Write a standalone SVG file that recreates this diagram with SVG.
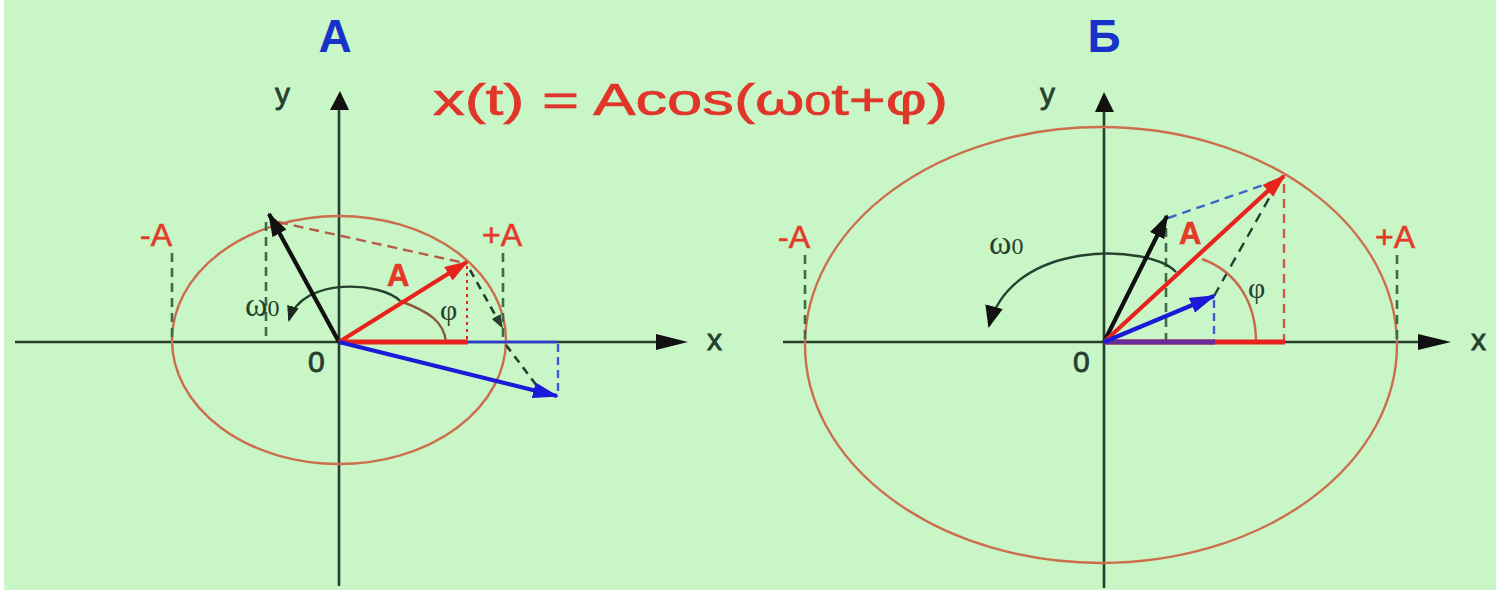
<svg xmlns="http://www.w3.org/2000/svg" width="1496" height="590" viewBox="0 0 1496 590">
<style>
.axis{stroke:#26402f;stroke-width:2.6;fill:none}
.ell{stroke:#cc6e4e;stroke-width:2.4;fill:none}
.dg{stroke:#3d6b4a;stroke-width:2.6;stroke-dasharray:9 6;fill:none}
.vec{stroke-width:4.2;fill:none}
.lbl{font-family:"Liberation Sans",Arial,sans-serif;fill:#e33a2a;stroke:#e33a2a;stroke-width:0.6}
.greek{font-family:"Liberation Serif","DejaVu Serif",serif;fill:#26402f}
.ttl{font-family:"Liberation Sans",Arial,sans-serif;font-weight:bold;fill:#1632c8;font-size:46px}
.ax{font-family:"Liberation Sans",Arial,sans-serif;fill:#26402f;stroke:#26402f;stroke-width:0.8;font-size:30px}
</style>
<defs>
<marker id="hRed" markerUnits="userSpaceOnUse" markerWidth="24" markerHeight="16" refX="22" refY="8" orient="auto"><path d="M0,0 L24,8 L0,16 z" fill="#e8221c"/></marker>
<marker id="hBlk" markerUnits="userSpaceOnUse" markerWidth="24" markerHeight="16" refX="22" refY="8" orient="auto"><path d="M0,0 L24,8 L0,16 z" fill="#111"/></marker>
<marker id="hBlu" markerUnits="userSpaceOnUse" markerWidth="26" markerHeight="16" refX="24" refY="8" orient="auto"><path d="M0,0 L26,8 L0,16 z" fill="#1a1ad8"/></marker>
<marker id="hArc" markerUnits="userSpaceOnUse" markerWidth="16" markerHeight="12" refX="14" refY="6" orient="auto"><path d="M0,0 L16,6 L0,12 z" fill="#1c2a20"/></marker>
<marker id="hArcB" markerUnits="userSpaceOnUse" markerWidth="22" markerHeight="18" refX="20" refY="9" orient="auto"><path d="M0,0 L22,9 L0,18 z" fill="#111"/></marker>
<marker id="hDash" markerUnits="userSpaceOnUse" markerWidth="14" markerHeight="10" refX="12" refY="5" orient="auto"><path d="M0,0 L14,5 L0,10 z" fill="#26402f"/></marker>
</defs>
<rect x="0" y="0" width="1496" height="590" fill="#c8f6c6"/>
<rect x="0" y="0" width="4" height="590" fill="#ffffff"/>

<!-- Titles and formula -->
<text class="ttl" x="335" y="52" text-anchor="middle">А</text>
<text class="ttl" x="1104" y="52" text-anchor="middle">Б</text>
<text x="433" y="115" font-family="'Liberation Sans',Arial,sans-serif" font-size="45" fill="#e0362a" stroke="#e0362a" stroke-width="0.7" textLength="515" lengthAdjust="spacingAndGlyphs">x(t) = Acos(ω<tspan font-size="34">0</tspan>t+φ)</text>

<!-- Diagram A -->
<g id="diagramA">
  <g id="axesA">
    <line class="axis" x1="15" y1="342" x2="662" y2="342"/>
    <polygon points="656,334 688,342 656,350" fill="#111"/>
    <line class="axis" x1="339" y1="586" x2="339" y2="108"/>
    <polygon points="330,110 340,91 349,110" fill="#111"/>
    <text class="ax" x="707" y="350">x</text>
    <text class="ax" x="275" y="104">y</text>
    <text class="ax" x="308" y="372" font-size="28">0</text>
  </g>
  <ellipse class="ell" cx="339" cy="340" rx="167" ry="124"/>
  <g id="dashesA">
    <line class="dg" x1="172" y1="253" x2="172" y2="342"/>
    <line class="dg" x1="503" y1="253" x2="503" y2="342"/>
    <line class="dg" x1="266" y1="222" x2="266" y2="342"/>
    <line x1="467" y1="266" x2="467" y2="342" stroke="#e8221c" stroke-width="2" stroke-dasharray="3 4"/>
    <line x1="278" y1="222" x2="460" y2="262" stroke="#b85a48" stroke-width="2.4" stroke-dasharray="10 6"/>
    <line x1="470" y1="270" x2="502" y2="327" stroke="#26402f" stroke-width="2.6" stroke-dasharray="8 6" marker-end="url(#hDash)"/>
    <line x1="506" y1="345" x2="540" y2="390" stroke="#26402f" stroke-width="2.6" stroke-dasharray="8 6"/>
    <line x1="558" y1="344" x2="558" y2="396" stroke="#3a5ad8" stroke-width="2.4" stroke-dasharray="8 5"/>
    <line x1="468" y1="342" x2="558" y2="342" stroke="#2a3ad8" stroke-width="2.4"/>
  </g>
  <g id="arcsA">
    <path d="M400,301 C382,282 302,276 289,320" stroke="#26402f" stroke-width="2.4" fill="none" marker-end="url(#hArc)"/>
    <path d="M400,301 C430,312 444,322 446,342" stroke="#8a5a3a" stroke-width="2.4" fill="none"/>
  </g>
  <g id="vectorsA">
    <line x1="339" y1="342" x2="468" y2="342" stroke="#e8221c" stroke-width="5"/>
    <line class="vec" x1="339" y1="342" x2="269" y2="214" stroke="#111" marker-end="url(#hBlk)"/>
    <line class="vec" x1="339" y1="342" x2="467" y2="262" stroke="#e8221c" marker-end="url(#hRed)"/>
    <line class="vec" x1="339" y1="342" x2="557" y2="396" stroke="#1a1ad8" marker-end="url(#hBlu)"/>
  </g>
  <g id="labelsA">
    <text class="lbl" x="140" y="246" font-size="32">-A</text>
    <text class="lbl" x="482" y="246" font-size="32">+A</text>
    <text class="lbl" x="387" y="286" font-size="31" font-weight="bold">A</text>
    <text class="greek" x="245" y="316" font-size="34">ω<tspan font-size="24">0</tspan></text>
    <text class="greek" x="440" y="320" font-size="30">φ</text>
  </g>
</g>

<!-- Diagram B -->
<g id="diagramB">
  <g id="axesB">
    <line class="axis" x1="783" y1="342" x2="1424" y2="342"/>
    <polygon points="1418,334 1451,342 1418,350" fill="#111"/>
    <line class="axis" x1="1104" y1="588" x2="1104" y2="110"/>
    <polygon points="1095,112 1104,92 1114,112" fill="#111"/>
    <text class="ax" x="1471" y="350">x</text>
    <text class="ax" x="1040" y="104">y</text>
    <text class="ax" x="1073" y="372" font-size="28">0</text>
  </g>
  <ellipse class="ell" cx="1101" cy="345" rx="296" ry="218"/>
  <g id="dashesB">
    <line class="dg" x1="805" y1="255" x2="805" y2="345"/>
    <line class="dg" x1="1397" y1="255" x2="1397" y2="345"/>
    <line class="dg" x1="1166" y1="228" x2="1166" y2="342"/>
    <line x1="1284" y1="184" x2="1284" y2="342" stroke="#cc5a48" stroke-width="2.4" stroke-dasharray="9 6"/>
    <line x1="1168" y1="218" x2="1278" y2="180" stroke="#3a68c8" stroke-width="2.4" stroke-dasharray="9 6"/>
    <line x1="1214" y1="300" x2="1214" y2="342" stroke="#3a5ad8" stroke-width="2.4" stroke-dasharray="8 5"/>
    <line x1="1214" y1="296" x2="1276" y2="186" stroke="#26402f" stroke-width="2.4" stroke-dasharray="10 7"/>
  </g>
  <g id="arcsB">
    <path d="M1176,272 C1150,244 1012,238 989,326" stroke="#26402f" stroke-width="2.4" fill="none" marker-end="url(#hArcB)"/>
    <path d="M1202,259 C1238,272 1256,304 1256,342" stroke="#c8684c" stroke-width="2.4" fill="none"/>
  </g>
  <g id="vectorsB">
    <line x1="1104" y1="342" x2="1285" y2="342" stroke="#e8221c" stroke-width="5"/>
    <line x1="1104" y1="342" x2="1215" y2="342" stroke="#6a2a9a" stroke-width="5"/>
    <line class="vec" x1="1104" y1="342" x2="1167" y2="216" stroke="#111" marker-end="url(#hBlk)"/>
    <line class="vec" x1="1104" y1="342" x2="1284" y2="176" stroke="#e8221c" marker-end="url(#hRed)"/>
    <line class="vec" x1="1104" y1="342" x2="1214" y2="296" stroke="#1a1ad8" marker-end="url(#hBlu)"/>
  </g>
  <g id="labelsB">
    <text class="lbl" x="778" y="248" font-size="32">-A</text>
    <text class="lbl" x="1375" y="248" font-size="32">+A</text>
    <text class="lbl" x="1179" y="244" font-size="31" font-weight="bold">A</text>
    <text class="greek" x="989" y="254" font-size="34">ω<tspan font-size="24">0</tspan></text>
    <text class="greek" x="1248" y="298" font-size="30">φ</text>
  </g>
</g>
</svg>
